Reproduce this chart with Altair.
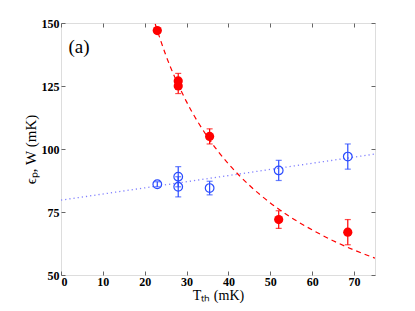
import altair as alt
import pandas as pd

# measured points (T_th in mK)
red_x = [23, 28, 28, 35.5, 52, 68.5]
red_y = [147, 127, 125, 105, 72, 67]
red_err = [1, 3, 3, 3, 3.5, 5]
blue_x = [23, 28, 28, 35.5, 52, 68.5]
blue_y = [86, 89, 85, 84.5, 91.5, 97]
blue_err = [1, 4, 4, 2.7, 4, 5]
# fitted curves
fit_red_x = [22.5, 25, 30, 35, 40, 45, 50, 55, 60, 65, 70, 75]
fit_red_y = [149.6, 137.4, 118.7, 104.8, 94.1, 85.6, 78.6, 72.8, 67.9, 63.6, 59.9, 56.7]
fit_blue_x = [0, 75]
fit_blue_y = [79.7, 98]
x_ticks = [0, 10, 20, 30, 40, 50, 60, 70]
y_ticks = [50, 75, 100, 125, 150]
panel_label = "(a)"

SERIF = "Liberation Serif"

red = pd.DataFrame({"x": red_x, "y": red_y,
                    "lo": [a - b for a, b in zip(red_y, red_err)],
                    "hi": [a + b for a, b in zip(red_y, red_err)]})
blue = pd.DataFrame({"x": blue_x, "y": blue_y,
                     "lo": [a - b for a, b in zip(blue_y, blue_err)],
                     "hi": [a + b for a, b in zip(blue_y, blue_err)]})
fr = pd.DataFrame({"x": fit_red_x, "y": fit_red_y})
fb = pd.DataFrame({"x": fit_blue_x, "y": fit_blue_y})
lab = pd.DataFrame({"x": [4.3], "y": [140.5], "t": [panel_label]})

xs = alt.Scale(domain=[0, 75], nice=False, zero=False)
ys = alt.Scale(domain=[50, 150], nice=False, zero=False)

tick_common = dict(domain=False, tickSize=4, offset=-4, tickColor="#666666",
                   tickWidth=1, grid=False)

x_bottom = alt.Axis(orient="bottom", values=x_ticks, labelPadding=1,
                    labelFont=SERIF, labelFontWeight="bold",
                    labelFontSize=12, labelColor="#000000", format="d",
                    title="Tₜₕ (mK)", titleFont=SERIF,
                    titleFontWeight="normal", titleFontSize=14,
                    titleColor="#000000", titlePadding=1, **tick_common)
y_left = alt.Axis(orient="left", values=y_ticks, labelPadding=2,
                  labelFont=SERIF, labelFontWeight="bold",
                  labelFontSize=12, labelColor="#000000", format="d",
                  title="ϵₚ, W (mK)", titleFont=SERIF,
                  titleFontWeight="normal", titleFontSize=15,
                  titleColor="#000000", titlePadding=3, **tick_common)
x_top = alt.Axis(orient="top", values=x_ticks, labels=False, title=None, **tick_common)
y_right = alt.Axis(orient="right", values=y_ticks, labels=False, title=None, **tick_common)

axes_layer = alt.Chart(fb).mark_line(opacity=0).encode(
    x=alt.X("x:Q", scale=xs, axis=x_bottom),
    y=alt.Y("y:Q", scale=ys, axis=y_left),
)
axes_layer2 = alt.Chart(fb).mark_line(opacity=0).encode(
    x=alt.X("x:Q", scale=xs, axis=x_top),
    y=alt.Y("y:Q", scale=ys, axis=y_right),
)

blue_line = alt.Chart(fb).mark_line(color="#7f7fff", strokeDash=[1.2, 3], strokeWidth=1.3).encode(
    x=alt.X("x:Q", scale=xs, axis=None), y=alt.Y("y:Q", scale=ys, axis=None))
red_line = alt.Chart(fr).mark_line(color="#ff0000", strokeDash=[5, 4], strokeWidth=1.2,
                                   interpolate="monotone", clip=True).encode(
    x=alt.X("x:Q", scale=xs, axis=None), y=alt.Y("y:Q", scale=ys, axis=None))

def bars(df, color):
    rule = alt.Chart(df).mark_rule(color=color, strokeWidth=1.2).encode(
        x=alt.X("x:Q", scale=xs, axis=None), y=alt.Y("lo:Q", scale=ys, axis=None), y2="hi:Q")
    cap_lo = alt.Chart(df).mark_tick(color=color, orient="horizontal", size=6, thickness=1.2).encode(
        x=alt.X("x:Q", scale=xs, axis=None), y=alt.Y("lo:Q", scale=ys, axis=None))
    cap_hi = alt.Chart(df).mark_tick(color=color, orient="horizontal", size=6, thickness=1.2).encode(
        x=alt.X("x:Q", scale=xs, axis=None), y=alt.Y("hi:Q", scale=ys, axis=None))
    return rule + cap_lo + cap_hi

red_pts = alt.Chart(red).mark_point(shape="circle", filled=True, color="#ff0000",
                                     size=85, opacity=1).encode(
    x=alt.X("x:Q", scale=xs, axis=None), y=alt.Y("y:Q", scale=ys, axis=None))
blue_pts = alt.Chart(blue).mark_point(shape="circle", filled=False, color="#2b4cff",
                                       size=75, strokeWidth=1.2, opacity=1).encode(
    x=alt.X("x:Q", scale=xs, axis=None), y=alt.Y("y:Q", scale=ys, axis=None))

label = alt.Chart(lab).mark_text(font=SERIF, fontSize=19, color="#000000").encode(
    x=alt.X("x:Q", scale=xs, axis=None), y=alt.Y("y:Q", scale=ys, axis=None), text="t:N")

chart = alt.layer(
    axes_layer, axes_layer2, blue_line, red_line,
    bars(blue, "#2b4cff"), bars(red, "#ff0000"),
    blue_pts, red_pts, label,
).resolve_axis(x="independent", y="independent").properties(
    width=314, height=252,
    autosize=alt.AutoSizeParams(type="none"),
    padding={"left": 53, "top": 15, "right": 28, "bottom": 28},
).configure_view(stroke="#555555", strokeWidth=1).configure(
    background="white", font=SERIF)

chart.save("out.html", embed_options={"renderer": "svg", "actions": False})
